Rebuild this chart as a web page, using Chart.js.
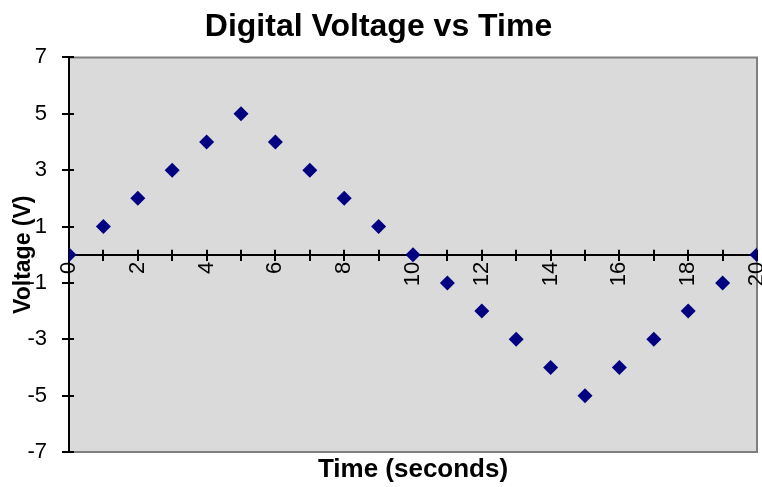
<!DOCTYPE html>
<html lang="en">
<head>
    <meta charset="UTF-8" />
    <title>Digital Voltage vs Time</title>
    <script src="https://cdn.jsdelivr.net/npm/chart.js"></script>
    <style>
        html, body { margin: 0; padding: 0; background: #ffffff; }
        #wrap { width: 762px; height: 487px; }
    </style>
</head>
<body>
    <div id="wrap"><canvas id="voltChart"></canvas></div>
    <script>
        const timeSeconds = [0, 1, 2, 3, 4, 5, 6, 7, 8, 9, 10, 11, 12, 13, 14, 15, 16, 17, 18, 19, 20];
        const voltage = [0, 1, 2, 3, 4, 5, 4, 3, 2, 1, 0, -1, -2, -3, -4, -5, -4, -3, -2, -1, 0];
        const yTicks = [-7, -5, -3, -1, 1, 3, 5, 7];

        const fontFamily = 'Arial, "Liberation Sans", sans-serif';

        // grey plot area with the Excel style frame
        const plotBackground = {
            id: 'plotBackground',
            beforeDraw(chart) {
                const { ctx, chartArea: a } = chart;
                ctx.save();
                ctx.fillStyle = '#dadada';
                ctx.fillRect(a.left, a.top, a.right - a.left, a.bottom - a.top);
                ctx.strokeStyle = '#808080';
                ctx.lineWidth = 2;
                ctx.beginPath();
                ctx.moveTo(a.left, a.top);
                ctx.lineTo(a.right, a.top);
                ctx.lineTo(a.right, a.bottom);
                ctx.lineTo(a.left, a.bottom);
                ctx.stroke();
                ctx.restore();
            }
        };

        // inner half of the crossing tick marks
        const innerTicks = {
            id: 'innerTicks',
            beforeDatasetsDraw(chart) {
                const { ctx, scales: { x, y } } = chart;
                const xAxisY = y.getPixelForValue(0);
                const yAxisX = x.left;
                ctx.save();
                ctx.strokeStyle = '#000000';
                ctx.lineWidth = 2;
                ctx.beginPath();
                x.ticks.forEach(t => {
                    const px = Math.round(x.getPixelForValue(t.value));
                    ctx.moveTo(px, xAxisY);
                    ctx.lineTo(px, xAxisY - 5);
                });
                y.ticks.forEach(t => {
                    const py = Math.round(y.getPixelForValue(t.value));
                    ctx.moveTo(yAxisX, py);
                    ctx.lineTo(yAxisX + 5, py);
                });
                ctx.stroke();
                ctx.restore();
            }
        };

        new Chart(document.getElementById('voltChart'), {
            type: 'scatter',
            data: {
                datasets: [{
                    label: 'Voltage',
                    data: timeSeconds.map((t, i) => ({ x: t, y: voltage[i] })),
                    pointStyle: 'rectRot',
                    pointRadius: 7.5,
                    pointHoverRadius: 7.5,
                    backgroundColor: '#000080',
                    borderColor: '#000080',
                    borderWidth: 0
                }]
            },
            options: {
                responsive: true,
                maintainAspectRatio: false,
                animation: false,
                layout: { autoPadding: false, padding: { right: 5, left: 0 } },
                plugins: {
                    legend: { display: false },
                    tooltip: { enabled: false },
                    title: {
                        display: true,
                        text: 'Digital Voltage vs Time',
                        color: '#000000',
                        font: { family: fontFamily, size: 32, weight: 'bold' },
                        padding: { top: 8, bottom: 11 }
                    }
                },
                scales: {
                    x: {
                        type: 'linear',
                        position: { y: 0 },
                        min: 0,
                        max: 20,
                        afterFit: scale => { scale.paddingLeft = 0; scale.paddingRight = 0; },
                        ticks: {
                            stepSize: 1,
                            autoSkip: false,
                            minRotation: 90,
                            maxRotation: 90,
                            color: '#000000',
                            padding: 2,
                            font: { family: fontFamily, size: 22 },
                            callback: v => (v % 2 === 0 ? v : '')
                        },
                        grid: {
                            drawOnChartArea: false,
                            drawTicks: true,
                            tickLength: 5,
                            color: '#000000',
                            lineWidth: 2
                        },
                        border: { color: '#000000', width: 2 }
                    },
                    // bottom scale only carries the axis title under the plot
                    xTitle: {
                        type: 'linear',
                        axis: 'x',
                        position: 'bottom',
                        min: 0,
                        max: 20,
                        afterFit: scale => {
                            scale.height = 35;
                            scale.paddingLeft = 0;
                            scale.paddingRight = 0;
                        },
                        ticks: { display: false },
                        grid: { display: false },
                        border: { display: false },
                        title: {
                            display: true,
                            text: 'Time (seconds)',
                            color: '#000000',
                            font: { family: fontFamily, size: 26, weight: 'bold' },
                            padding: { top: 0, bottom: 2 }
                        }
                    },
                    y: {
                        min: -7,
                        max: 7,
                        afterBuildTicks: scale => {
                            scale.ticks = yTicks.map(v => ({ value: v }));
                        },
                        afterFit: scale => {
                            scale.width = 69;
                            scale.paddingTop = 0;
                            scale.paddingBottom = 0;
                        },
                        ticks: {
                            color: '#000000',
                            padding: 15,
                            font: { family: fontFamily, size: 22 }
                        },
                        title: {
                            display: true,
                            text: 'Voltage (V)',
                            color: '#000000',
                            font: { family: fontFamily, size: 23, weight: 'bold' },
                            padding: { top: 10, bottom: 0 }
                        },
                        grid: {
                            drawOnChartArea: false,
                            drawTicks: true,
                            tickLength: 7,
                            color: '#000000',
                            lineWidth: 2
                        },
                        border: { color: '#000000', width: 2 }
                    }
                }
            },
            plugins: [plotBackground, innerTicks]
        });
    </script>
</body>
</html>
